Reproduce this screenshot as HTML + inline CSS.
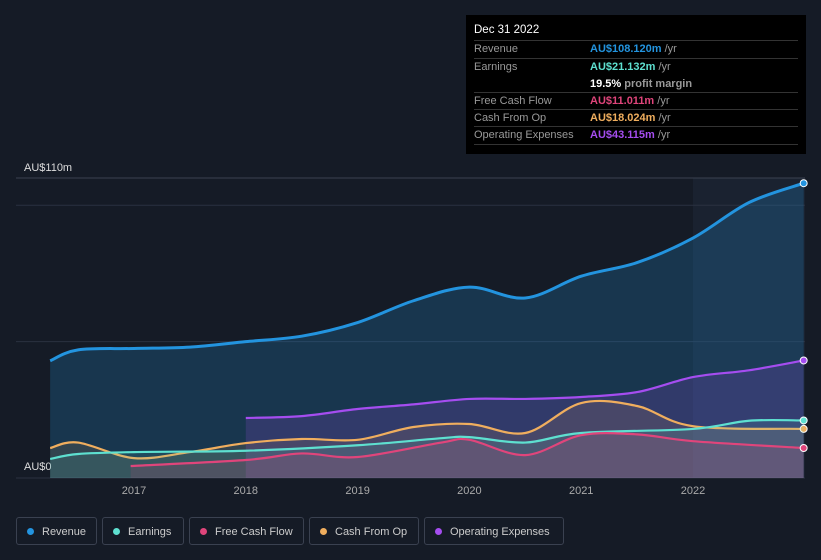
<!DOCTYPE html>
<html><head><meta charset="utf-8"><style>
body{margin:0;background:#151b26;font-family:"Liberation Sans",sans-serif;}
#wrap{position:relative;width:821px;height:560px;overflow:hidden;background:#151b26;}
#tip{position:absolute;left:466px;top:15px;width:340px;height:139px;background:#000;color:#999;font-size:11px;}
#tip .d{position:absolute;left:8px;top:9px;color:#fff;font-size:11.5px;}
.row{position:absolute;left:8px;width:324px;border-top:1px solid #333;height:17px;}
.row span{position:absolute;top:2px}
.leg{position:absolute;top:517px;height:28px;border:1px solid #3a4150;border-radius:3px;color:#ccc;font-size:11px;line-height:28px;box-sizing:border-box;}
.leg i{display:inline-block;width:7px;height:7px;border-radius:50%;margin:0 8px 0 10px;}
</style></head><body>
<div id="wrap">
<svg id="svg" width="821" height="560" style="position:absolute;left:0;top:0"></svg>
<div id="tip">
<div class="d">Dec 31 2022</div>
<div class="row" style="top:25px"><span>Revenue</span><span style="left:116px;color:#2394df;font-weight:bold">AU$108.120m <b style="color:#999;font-weight:normal">/yr</b></span></div>
<div class="row" style="top:43px"><span>Earnings</span><span style="left:116px;color:#5ee0d0;font-weight:bold">AU$21.132m <b style="color:#999;font-weight:normal">/yr</b></span></div>
<div class="row" style="top:61px;border-top:none"><span style="left:116px;color:#fff;font-weight:bold">19.5% <b style="color:#999">profit margin</b></span></div>
<div class="row" style="top:77px"><span>Free Cash Flow</span><span style="left:116px;color:#e0457b;font-weight:bold">AU$11.011m <b style="color:#999;font-weight:normal">/yr</b></span></div>
<div class="row" style="top:94px"><span>Cash From Op</span><span style="left:116px;color:#f0ae5e;font-weight:bold">AU$18.024m <b style="color:#999;font-weight:normal">/yr</b></span></div>
<div class="row" style="top:111px"><span>Operating Expenses</span><span style="left:116px;color:#a54df0;font-weight:bold">AU$43.115m <b style="color:#999;font-weight:normal">/yr</b></span></div>
<div class="row" style="top:129px;height:0"></div>
</div>
<div class="leg" style="left:16px;width:81px"><i style="background:#2394df"></i>Revenue</div>
<div class="leg" style="left:102px;width:82px"><i style="background:#5ee0d0"></i>Earnings</div>
<div class="leg" style="left:189px;width:115px"><i style="background:#e0457b"></i>Free Cash Flow</div>
<div class="leg" style="left:309px;width:110px"><i style="background:#f0ae5e"></i>Cash From Op</div>
<div class="leg" style="left:424px;width:140px"><i style="background:#a54df0"></i>Operating Expenses</div>
</div>
<script>
const years=[2017,2018,2019,2020,2021,2022];
const revT=[2016.25,2016.5,2017,2017.5,2018,2018.5,2019,2019.5,2020,2020.5,2021,2021.5,2022,2022.5,2022.99];
const revenue=[43,47,47.5,48,50,52,57,65,70,66,74,79,88,101,108.1];
const earT=[2016.25,2016.5,2017,2018,2019,2019.75,2020,2020.5,2021,2022,2022.5,2022.99];
const earnings=[7,8.8,9.5,10,12,14.6,15,13,16.5,18,21,21.1];
const fcfT=[2016.97,2018,2018.5,2019,2019.75,2020,2020.5,2021,2021.5,2022,2022.99];
const fcf=[4.4,6.6,9,7.7,13,14,8.4,15.7,16,13.5,11];
const cfoT=[2016.25,2016.5,2017,2017.5,2018,2018.5,2019,2019.5,2020,2020.5,2021,2021.5,2022,2022.99];
const cfo=[11,13,7.3,9.5,12.8,14.3,14,18.7,19.8,16.5,27.5,26.4,19,18];
const opT=[2018,2018.5,2019,2019.5,2020,2020.5,2021,2021.5,2022,2022.5,2022.99];
const opex=[22,22.7,25.3,27,29,29,29.7,31.5,37,39.5,43.1];
const X=t=>134+(t-2017)*111.8, Y=v=>478-v*2.727;
const svg=document.getElementById('svg');const NS='http://www.w3.org/2000/svg';
function add(tag,a,txt){const e=document.createElementNS(NS,tag);for(const k in a)e.setAttribute(k,a[k]);if(txt!=null)e.textContent=txt;svg.appendChild(e);return e;}
let e;
e=add('rect',{x:693,y:178,width:112,height:300,fill:'#1e2837',opacity:0.6});

[0,50,100].forEach(v=>{e=add('line',{x1:16,x2:805,y1:Y(v),y2:Y(v),stroke:'#2a3140'});});
e=add('line',{x1:16,x2:805,y1:178,y2:178,stroke:'#3a4150'});
e=add('text',{x:24,y:171,fill:'#ddd','font-size':11},'AU$110m');
e=add('text',{x:24,y:470,fill:'#ddd','font-size':11},'AU$0');
years.forEach(y=>{e=add('text',{x:X(y),y:494,fill:'#aaa','font-size':11,'text-anchor':'middle'},y);});
function smooth(pts){let d='M'+pts[0][0]+','+pts[0][1];for(let i=0;i<pts.length-1;i++){const p0=pts[i-1]||pts[i],p1=pts[i],p2=pts[i+1],p3=pts[i+2]||p2;d+=` C${p1[0]+(p2[0]-p0[0])/6},${p1[1]+(p2[1]-p0[1])/6} ${p2[0]-(p3[0]-p1[0])/6},${p2[1]-(p3[1]-p1[1])/6} ${p2[0]},${p2[1]}`;}return d;}
function series(ts,vs,col,fillOp,name){const pts=ts.map((t,i)=>[X(t),Y(vs[i])]);const d=smooth(pts);
e=add('path',{d:d+` L${pts[pts.length-1][0]},478 L${pts[0][0]},478 Z`,fill:col,opacity:fillOp});
e=add('path',{d:d,fill:'none',stroke:col,'stroke-width':name=='revenue'?3:2.2});
const l=pts[pts.length-1];e=add('circle',{cx:l[0],cy:l[1],r:3.5,fill:col,stroke:'#fff','stroke-width':1});}
series(revT,revenue,'#2394df',0.22,'revenue');
series(opT,opex,'#a54df0',0.18,'opex');
series(cfoT,cfo,'#f0ae5e',0.12,'cfo');
series(earT,earnings,'#5ee0d0',0.12,'earnings');
series(fcfT,fcf,'#e0457b',0.15,'fcf');
</script>
</body></html>
